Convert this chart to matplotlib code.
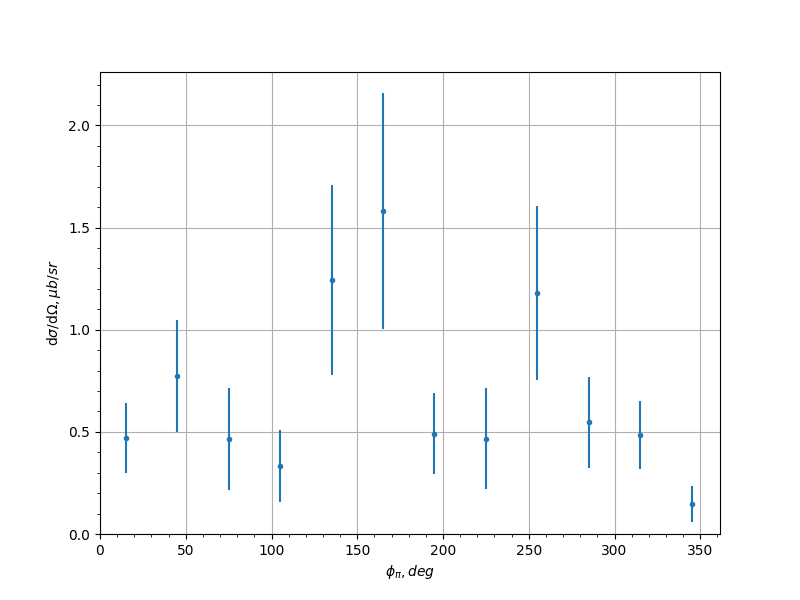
import numpy as np
import matplotlib.pyplot as plt

phi = np.array([15, 45, 75, 105, 135, 165, 195, 225, 255, 285, 315, 345])
xsec = np.array([0.469, 0.773, 0.466, 0.335, 1.242, 1.580, 0.490, 0.466, 1.180, 0.548, 0.486, 0.148])
err = np.array([0.170, 0.275, 0.250, 0.176, 0.465, 0.577, 0.198, 0.248, 0.424, 0.223, 0.167, 0.087])

fig, ax = plt.subplots(figsize=(8, 6), dpi=100)
ax.errorbar(phi, xsec, yerr=err, fmt='.')
ax.set_xlim(left=0)
ax.set_ylim(bottom=0)
ax.minorticks_on()
ax.grid()
ax.set_xlabel(r'$\phi_{\pi}, deg$')
ax.set_ylabel(r'd$\sigma$/d$\Omega, \mu b/sr$')
plt.savefig('out.png')
